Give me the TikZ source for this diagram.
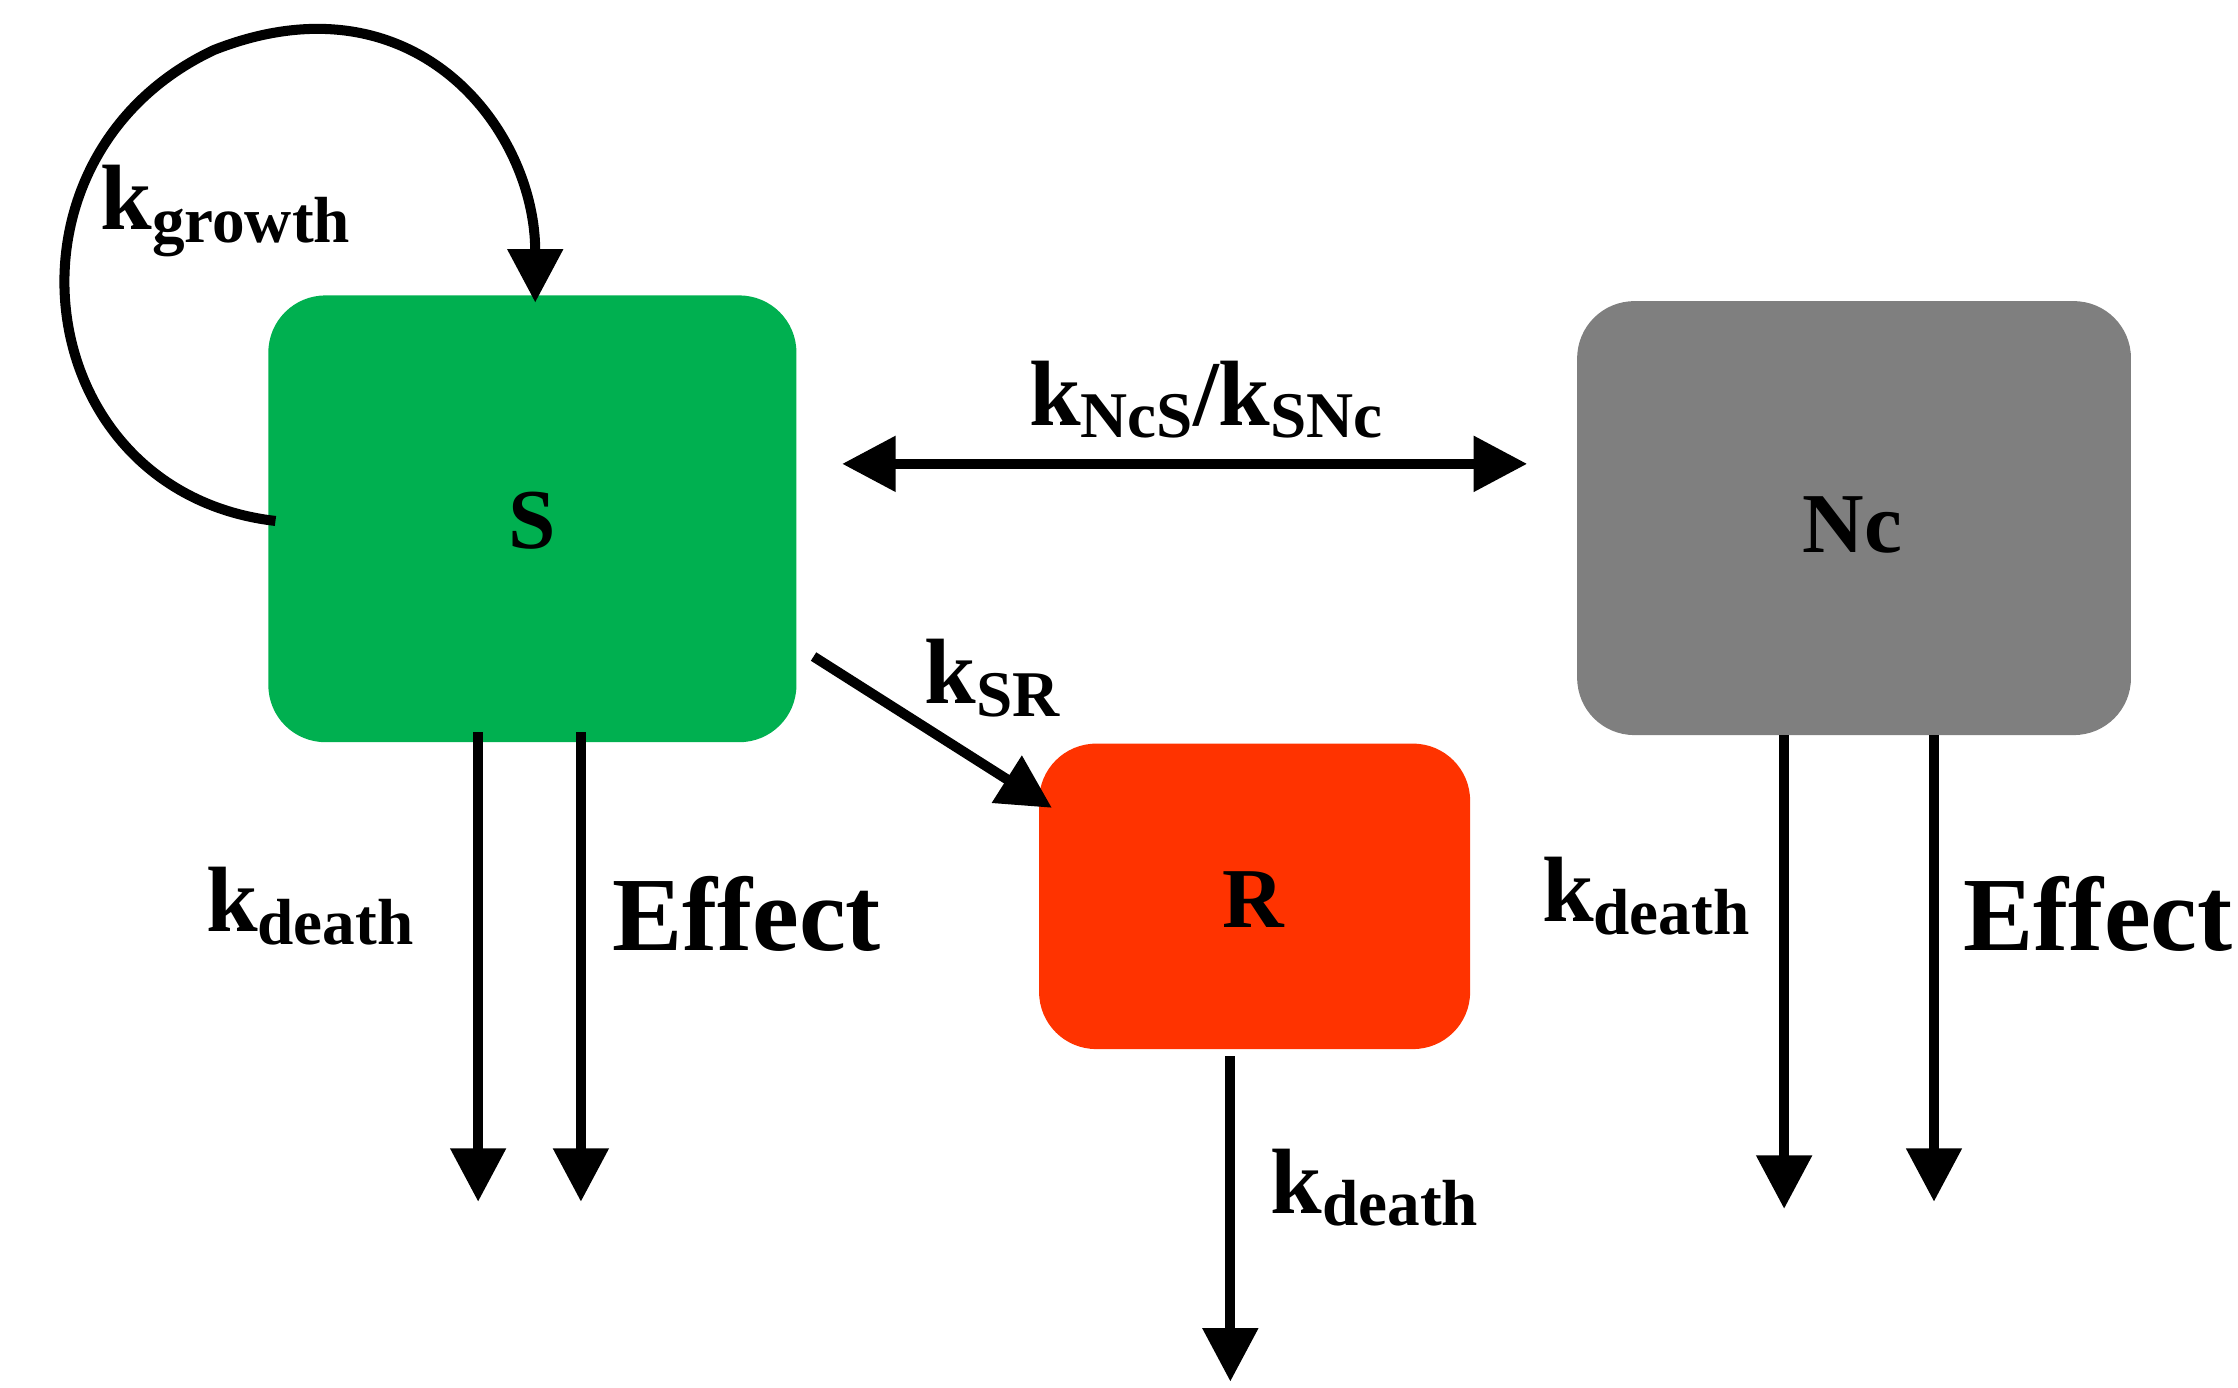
\documentclass[tikz,border=0pt]{standalone}
\usepackage{fontspec}
\setmainfont{Liberation Serif}
\usetikzlibrary{arrows.meta}
\definecolor{sgreen}{RGB}{0,176,80}
\definecolor{ngray}{RGB}{127,127,127}
\definecolor{rred}{RGB}{255,51,0}
\begin{document}
\begin{tikzpicture}[x=0.02cm,y=-0.02cm,
  box/.style={rounded corners=0.8cm,inner sep=0,font=\fontsize{34}{40}\selectfont\bfseries},
  arr/.style={line width=4pt,-{Triangle[width=0.75cm,length=0.75cm]}},
  lab/.style={font=\fontsize{37}{40}\selectfont\bfseries,inner sep=0},
  sub/.style={font=\fontsize{26}{30}\selectfont\bfseries}]
\useasboundingbox (0,0) rectangle (1568,972);
\fill[sgreen,rounded corners=0.8cm] (188,207) rectangle (558,520);
\node[box] (S) at (373,365) {S};
\fill[ngray,rounded corners=0.8cm] (1105,211) rectangle (1493,515);
\node[box] (Nc) at (1298,368) {Nc};
\fill[rred,rounded corners=0.8cm] (728,521) rectangle (1030,735);
\node[box] (R) at (878,630) {R};
% growth loop
\coordinate (g0) at (193,365);
\coordinate (g1) at (375,212);
\draw[arr] (g0) .. controls (20,345) and (-10,110) .. (150,35) .. controls (290,-20) and (375,90) .. (g1);
\node[lab,anchor=west] (lg) at (70,148) {k\raisebox{-5pt}{\fontsize{26}{30}\selectfont growth}};
% exchange
\coordinate (e1) at (590,325); \coordinate (e2) at (1070,325);
\draw[line width=4pt,{Triangle[width=0.75cm,length=0.75cm]}-{Triangle[width=0.75cm,length=0.75cm]}] (e1) -- (e2);
\node[lab] (le) at (845,280) {k\raisebox{-5pt}{\fontsize{26}{30}\selectfont NcS}/k\raisebox{-5pt}{\fontsize{26}{30}\selectfont SNc}};
% S -> R
\coordinate (sr0) at (570,460); \coordinate (sr1) at (737,566);
\draw[arr] (sr0) -- (sr1);
\node[lab] (lsr) at (695,475) {k\raisebox{-5pt}{\fontsize{26}{30}\selectfont SR}};
% S outflows
\coordinate (a1) at (335,513); \coordinate (a2) at (335,842);
\coordinate (b1) at (407,513); \coordinate (b2) at (407,842);
\draw[arr] (a1) -- (a2); \draw[arr] (b1) -- (b2);
\node[lab] (l1) at (217,635) {k\raisebox{-5pt}{\fontsize{26}{30}\selectfont death}};
\node[lab,font=\fontsize{42}{46}\selectfont\bfseries] (l2) at (523,640) {Effect};
% Nc outflows
\coordinate (c1) at (1250,515); \coordinate (c2) at (1250,847);
\coordinate (d1) at (1355,515); \coordinate (d2) at (1355,842);
\draw[arr] (c1) -- (c2); \draw[arr] (d1) -- (d2);
\node[lab] (l3) at (1153,628) {k\raisebox{-5pt}{\fontsize{26}{30}\selectfont death}};
\node[lab,font=\fontsize{42}{46}\selectfont\bfseries] (l4) at (1470,640) {Effect};
% R outflow
\coordinate (r1) at (862,740); \coordinate (r2) at (862,968);
\draw[arr] (r1) -- (r2);
\node[lab] (l5) at (963,832) {k\raisebox{-5pt}{\fontsize{26}{30}\selectfont death}};
\end{tikzpicture}
\end{document}
